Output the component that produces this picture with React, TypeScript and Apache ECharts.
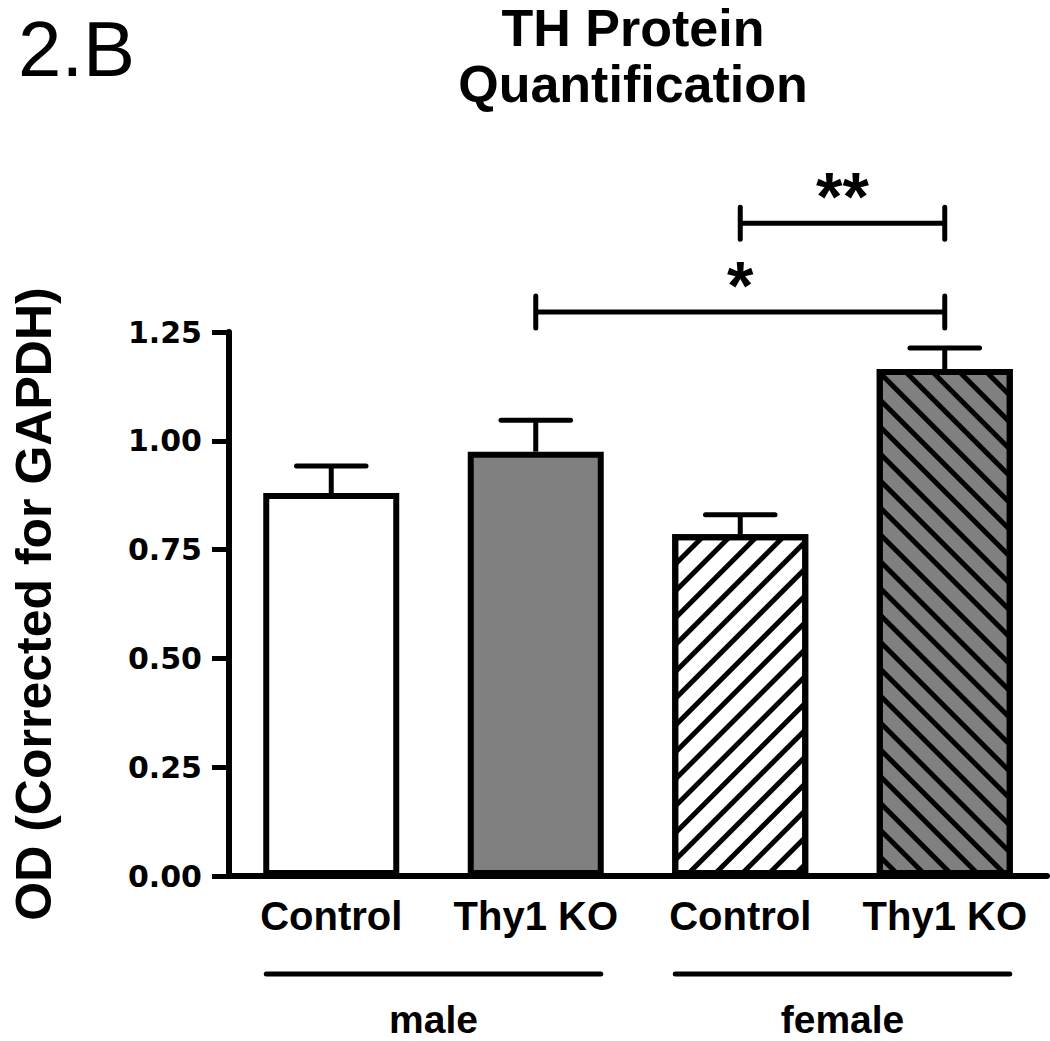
import React, { useEffect, useRef } from "react";
import * as echarts from "echarts";

const categories = ["Control", "Thy1 KO", "Control", "Thy1 KO"];
const means = [0.88, 0.975, 0.785, 1.165];
const sems = [0.062, 0.072, 0.045, 0.048];
const fills = ["#ffffff", "#808080", "#ffffff", "#808080"];
const hatches = ["none", "none", "forward", "back"];
const yMin = 0;
const yMax = 1.25;
const yStep = 0.25;
const groupNames = ["male", "female"];
const groupFrom = [0, 2];
const groupTo = [1, 3];
const bracketFrom = [2, 1];
const bracketTo = [3, 3];
const bracketY = [1.5, 1.296];
const bracketLabels = ["**", "*"];

const FONT = '"Liberation Sans", Arial, sans-serif';

function decalFor(kind: string) {
  if (kind === "none") return undefined;
  return {
    symbol: "rect",
    symbolSize: 1,
    color: "#000000",
    dashArrayX: [1, 0],
    dashArrayY: [5, 14],
    rotation: kind === "forward" ? -Math.PI / 4 : Math.PI / 4,
  };
}

export default function App() {
  const ref = useRef<HTMLDivElement>(null);
  useEffect(() => {
    if (!ref.current) return;
    const chart = echarts.init(ref.current, undefined, { renderer: "svg" });
    const option: any = {
      animation: false,
      backgroundColor: "#ffffff",
      grid: { left: 229, right: 3, top: 332, bottom: 165, containLabel: false, outerBoundsMode: "none" },
      graphic: [
        {
          type: "text",
          left: 18,
          top: 10,
          style: { text: "2.B", font: `normal 78px ${FONT}`, fill: "#000" },
        },
        {
          type: "text",
          x: 633,
          y: 0,
          style: {
            text: "TH Protein\nQuantification",
            font: `bold 52px ${FONT}`,
            fill: "#000",
            align: "center",
            verticalAlign: "top",
            lineHeight: 56,
          },
        },
      ],
      xAxis: {
        type: "category",
        data: categories,
        axisLine: { lineStyle: { color: "#000", width: 6 } },
        axisTick: { alignWithLabel: true, length: 19, lineStyle: { color: "#000", width: 5 } },
        axisLabel: {
          interval: 0,
          color: "#000",
          fontFamily: FONT,
          fontWeight: "bold",
          fontSize: 40,
          margin: 20,
        },
      },
      yAxis: {
        type: "value",
        min: yMin,
        max: yMax,
        interval: yStep,
        name: "OD (Corrected for GAPDH)",
        nameLocation: "middle",
        nameGap: 170,
        nameTextStyle: { color: "#000", fontFamily: FONT, fontWeight: "bold", fontSize: 50 },
        splitLine: { show: false },
        axisLine: { show: true, lineStyle: { color: "#000", width: 6 } },
        axisTick: { show: true, length: 17, lineStyle: { color: "#000", width: 5 } },
        axisLabel: {
          color: "#000",
          fontFamily: '"DejaVu Sans", sans-serif',
          fontWeight: "bold",
          fontSize: 30,
          margin: 27,
          formatter: (v: number) => v.toFixed(2),
        },
      },
      series: [
        {
          type: "bar",
          barWidth: 136,
          data: means.map((m, i) => ({
            value: m,
            itemStyle: {
              color: fills[i],
              borderColor: "#000",
              borderWidth: 6,
              decal: decalFor(hatches[i]),
            },
          })),
          z: 2,
        },
        {
          type: "custom",
          z: 3,
          clip: false,
          encode: { x: 0, y: [1, 2] },
          data: means.map((m, i) => [i, m, m + sems[i]]),
          renderItem: (params: any, api: any) => {
            const x = api.value(0);
            const base = api.coord([x, api.value(1)]);
            const top = api.coord([x, api.value(2)]);
            const hw = api.size([1, 0])[0] * 0.17;
            return {
              type: "group",
              children: [
                {
                  type: "line",
                  shape: { x1: base[0], y1: base[1], x2: top[0], y2: top[1] },
                  style: { stroke: "#000", lineWidth: 5 },
                },
                {
                  type: "line",
                  shape: { x1: top[0] - hw, y1: top[1], x2: top[0] + hw, y2: top[1] },
                  style: { stroke: "#000", lineWidth: 5, lineCap: "round" },
                },
              ],
            };
          },
        },
        {
          type: "custom",
          z: 3,
          clip: false,
          encode: { x: [0, 1], y: 2 },
          data: bracketFrom.map((f, i) => [f, bracketTo[i], bracketY[i]]),
          renderItem: (params: any, api: any) => {
            const a = api.coord([api.value(0), api.value(2)]);
            const b = api.coord([api.value(1), api.value(2)]);
            const t = 16;
            return {
              type: "group",
              children: [
                { type: "line", shape: { x1: a[0], y1: a[1], x2: b[0], y2: b[1] }, style: { stroke: "#000", lineWidth: 5 } },
                { type: "line", shape: { x1: a[0], y1: a[1] - t, x2: a[0], y2: a[1] + t }, style: { stroke: "#000", lineWidth: 5, lineCap: "round" } },
                { type: "line", shape: { x1: b[0], y1: b[1] - t, x2: b[0], y2: b[1] + t }, style: { stroke: "#000", lineWidth: 5, lineCap: "round" } },
                {
                  type: "text",
                  x: (a[0] + b[0]) / 2,
                  y: a[1] - 27,
                  style: {
                    text: bracketLabels[params.dataIndex],
                    font: `bold 68px ${FONT}`,
                    fill: "#000",
                    align: "center",
                    verticalAlign: "middle",
                  },
                },
              ],
            };
          },
        },
        {
          type: "custom",
          z: 3,
          clip: false,
          encode: { x: [0, 1] },
          data: groupFrom.map((f, i) => [f, groupTo[i]]),
          renderItem: (params: any, api: any) => {
            const a = api.coord([api.value(0), 0]);
            const b = api.coord([api.value(1), 0]);
            const ly = a[1] + 98;
            return {
              type: "group",
              children: [
                { type: "line", shape: { x1: a[0] - 65, y1: ly, x2: b[0] + 65, y2: ly }, style: { stroke: "#000", lineWidth: 5, lineCap: "round" } },
                {
                  type: "text",
                  x: (a[0] + b[0]) / 2,
                  y: a[1] + 143,
                  style: {
                    text: groupNames[params.dataIndex],
                    font: `bold 39px ${FONT}`,
                    fill: "#000",
                    align: "center",
                    verticalAlign: "middle",
                  },
                },
              ],
            };
          },
        },
      ],
    };
    chart.setOption(option);
    return () => chart.dispose();
  }, []);
  return (
    <div
      ref={ref}
      style={{ position: "fixed", left: 0, top: 0, width: 1050, height: 1041, background: "#fff" }}
    />
  );
}
